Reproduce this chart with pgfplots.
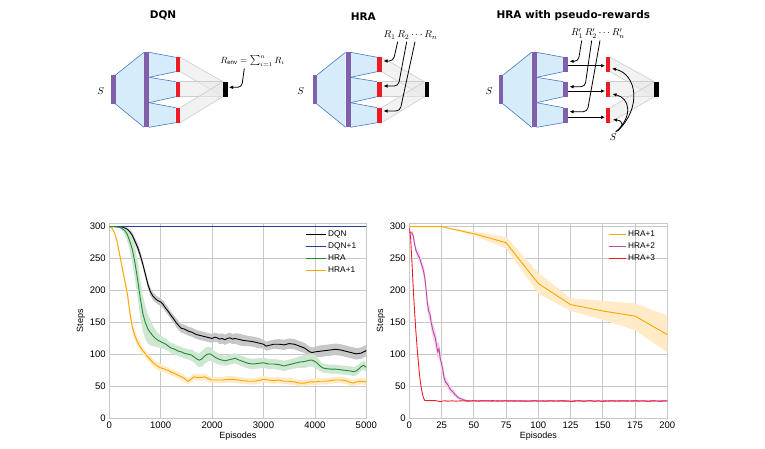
\documentclass[border=0pt]{standalone}
\usepackage{fontspec}
\setmainfont{Liberation Sans}
\newfontfamily\titlefont{DejaVu Sans}
\usepackage{pgfplots}
\pgfplotsset{compat=1.18}
\usepackage{pgfplotstable}
\usepgfplotslibrary{fillbetween}
\usetikzlibrary{arrows.meta}

\definecolor{netpurple}{RGB}{128,96,170}
\definecolor{netred}{RGB}{237,28,36}
\definecolor{netblue}{RGB}{70,120,200}
\definecolor{netfill}{RGB}{214,236,250}
\definecolor{headgrey}{RGB}{205,205,205}
\definecolor{headfill}{RGB}{232,232,232}
\definecolor{cDQNp}{RGB}{40,60,160}
\definecolor{cHRA}{RGB}{30,140,50}
\definecolor{cHRAp}{RGB}{255,165,0}
\definecolor{cHRAtwo}{RGB}{190,70,165}
\definecolor{cHRAthree}{RGB}{235,30,40}
\definecolor{gridc}{RGB}{200,200,200}

% ---------------- learning curves (mean m, half-width e) ----------------
\pgfplotstableread{
ep m e
0 300 0
100 300 0
200 300 0.5
250 299.5 1
300 298 2
350 296 3
400 292 4
450 286 5
500 277 5
550 268 6
600 256 6
650 242 6
700 226 6
750 210 6
800 198 6
850 191 6
900 187 6
950 184 6
1000 182 6
1050 178 6
1100 172 6
1150 167 6
1200 161 6
1250 156 6
1300 150 7
1350 145 7
1400 141 7
1450 140 7
1500 138 7
1550 136 7
1600 135 7
1650 133 7
1700 131 7
1750 130 7
1800 129 7
1850 128 7
1900 127 7
1950 126 7
2000 125 7
2050 127 7
2100 126 7
2150 124 8
2200 125 8
2250 123 8
2300 125 8
2350 126 8
2400 124 8
2450 125 8
2500 124 9
2600 122 9
2700 121 8
2800 120 8
2900 118 8
3000 116 7
3050 113 7
3100 114 7
3200 116 7
3300 116 8
3400 115 8
3500 117 8
3600 116 8
3700 113 8
3800 110 8
3850 107 8
3900 104 8
3950 103 8
4000 104 8
4100 105 9
4200 106 9
4300 107 9
4400 108 9
4500 107 9
4600 105 9
4700 103 9
4800 101 9
4900 102 9
4950 104 9
5000 106 9
}\dqn

\pgfplotstableread{
ep m e
0 300 0
100 300 0
200 299 1
250 297 3
300 294 6
350 288 10
400 277 15
450 264 21
500 243 25
550 218 28
600 189 29
650 165 28
700 150 26
750 140 23
800 134 20
850 129 16
900 125 13
950 122 11
1000 120 10
1050 118 9
1100 116 9
1150 113 8
1200 110 8
1250 109 8
1300 107 8
1350 105 8
1400 104 8
1450 102 8
1500 101 8
1550 100 8
1600 99 9
1650 96 9
1700 93 10
1750 91 11
1800 93 12
1850 97 12
1900 100 12
1950 101 11
2000 99 10
2050 96 9
2100 94 9
2150 92 8
2200 91 8
2250 90 8
2300 91 8
2350 92 8
2400 93 8
2450 94 8
2500 92 8
2600 89 8
2700 86 8
2800 85 8
2900 86 8
3000 87 8
3100 85 8
3200 85 8
3300 84 8
3400 82 8
3500 84 8
3600 86 8
3700 88 9
3800 89 10
3900 91 10
3950 91 10
4000 89 10
4050 86 9
4100 82 8
4150 79 7
4200 78 7
4300 77 7
4400 77 7
4500 76 7
4600 75 7
4700 74 7
4750 73 7
4800 74 7
4850 77 7
4900 81 7
4950 83 7
5000 80 7
}\hra

\pgfplotstableread{
ep m e
0 300 0
50 298 1
100 291 2
150 277 3
200 257 4
250 236 5
300 216 6
350 196 7
400 166 8
450 142 8
500 129 8
550 119 7
600 112 7
650 106 6
700 101 6
750 96 6
800 92 6
850 87 6
900 84 6
950 81 6
1000 79 6
1050 78 5
1100 76 5
1150 75 5
1200 72 5
1250 71 5
1300 69 5
1350 67 5
1400 65 5
1450 63 5
1500 60 5
1530 58 5
1570 60 5
1600 62 5
1650 65 5
1700 64 5
1800 64 5
1850 65 5
1900 63 5
1950 61 5
2000 60 5
2100 60 5
2200 60 5
2300 61 5
2400 61 5
2500 60 5
2600 59 5
2700 58 5
2800 58 5
2900 59 5
3000 61 5
3100 60 5
3200 59 5
3300 60 5
3400 58 5
3500 58 5
3600 57 5
3700 55 5
3800 55 5
3900 57 5
4000 57 5
4100 58 5
4200 58 5
4300 59 5
4400 60 5
4500 60 5
4600 59 5
4700 56 5
4750 55 5
4800 57 5
4900 58 5
5000 57 5
}\hraone

% ---------------- early episodes ----------------
\pgfplotstableread{
ep m lo hi
0 300 300 300
25 300 300 300
50 289 286 292
75 275 266 284
100 211 195 228
125 178 168 188
150 168 154 184
175 160 138 180
200 131 103 161
}\hrapone

\pgfplotstableread{
ep m e
0 292 2
1 291 3
2 290 4
3 286 5
4 274 6
5 264 6
6 259 6
7 255 7
8 251 7
9 244 7
10 238 8
11 231 9
12 220 10
13 202 11
14 180 12
15 168 12
16 163 12
17 150 12
18 140 12
19 133 12
20 127 12
21 116 12
22 104 12
23 109 12
24 93 12
25 86 11
26 76 10
27 63 9
28 57 8
29 55 7
30 52 6
31 48 6
32 45 5
33 43 5
34 41 4
35 38 4
36 36 3
37 34 3
38 32 3
39 31.5 2
40 30.5 2
41 30 2
42 29 1.5
43 28.5 1.5
44 28 1
46 27.5 1
48 27.2 0.5
50 27.6 0.5
53 27.0 0.5
56 27.8 0.5
59 26.9 0.5
62 27.4 0.5
65 27.7 0.5
68 26.8 0.5
71 27.3 0.5
74 27.6 0.5
77 26.9 0.5
80 27.2 0.5
83 27.5 0.5
86 26.7 0.5
89 27.4 0.5
92 27.1 0.5
95 26.9 0.5
98 27.6 0.5
101 27.0 0.5
104 27.3 0.5
107 26.8 0.5
110 27.5 0.5
113 27.2 0.5
116 26.9 0.5
119 27.7 0.5
122 27.1 0.5
125 26.6 0.5
128 27.3 0.5
131 27.5 0.5
134 26.9 0.5
137 27.2 0.5
140 27.6 0.5
143 26.8 0.5
146 27.3 0.5
149 27.0 0.5
152 27.4 0.5
155 26.9 0.5
158 27.5 0.5
161 27.1 0.5
164 26.8 0.5
167 27.4 0.5
170 27.2 0.5
173 26.9 0.5
176 27.6 0.5
179 27.0 0.5
182 27.3 0.5
185 26.8 0.5
188 27.5 0.5
191 27.1 0.5
194 26.9 0.5
197 27.4 0.5
200 27.2 0.5
}\hraptwo

\pgfplotstableread{
ep m
0 298
1 283
2 247
3 206
4 170
5 139
6 112
7 88
8 67
9 51
10 40
11 32
12 28
14 27.5
16 28
18 27.6
20 27.8
22 27
24 26.2
26 27
28 27.4
30 26.8
33 27.3
36 26.9
39 27.2
42 27.5
45 26.7
48 27.1
51 27.4
54 26.9
57 27.2
60 27.6
63 26.8
66 27.1
69 27.3
72 26.9
75 27.2
78 27.5
81 26.8
84 27.1
87 27.3
90 26.6
93 27.0
96 27.4
99 26.9
102 27.2
105 26.8
108 27.5
111 26.9
114 27.1
117 27.3
120 26.7
123 27.2
126 26.4
129 27.0
132 27.4
135 26.8
138 27.1
141 27.3
144 26.9
147 27.2
150 26.5
153 27.0
156 27.4
159 26.8
162 27.2
165 27.5
168 26.9
171 27.1
174 27.3
177 26.8
180 27.2
183 27.0
186 26.6
189 27.3
192 27.1
195 26.8
198 27.2
200 27.0
}\hrapthree

% ---------------- network sketches ----------------
% trunk: input layer, shared layer and three heads; #1 = x shift, #2 = head colour
\newcommand{\trunk}[2]{%
  \begin{scope}[xshift=#1pt]
    \fill[netfill] (115.5,75) -- (144,52.3) -- (144,127.3) -- (115.5,104) -- cycle;
    \draw[netblue, line width=0.6pt] (115.5,75) -- (144,52.3) (115.5,104) -- (144,127.3);
    \foreach \a/\b/\c/\d in {52.3/77.3/57.3/71.7, 77.3/102.7/81.7/96.7, 102.7/127.3/107.7/122.7}{
      \fill[netfill] (149,\a) -- (175.7,\c) -- (175.7,\d) -- (149,\b) -- cycle;
      \draw[netblue, line width=0.6pt] (149,\a) -- (175.7,\c) (149,\b) -- (175.7,\d);
    }
    \fill[netpurple] (111,75) rectangle (115.5,104);
    \fill[netpurple] (144,52.3) rectangle (149,127.3);
    \foreach \c/\d in {57.3/71.7, 81.7/96.7, 107.7/122.7}{
      \fill[#2] (175.7,\c) rectangle (180.2,\d);
    }
  \end{scope}}
% output part: red value heads merged into the black aggregator; #1 = red left, #2 = black left
\newcommand{\outpart}[2]{%
  \foreach \c/\d in {57.3/71.7, 81.7/96.7, 107.7/122.7}{
    \fill[headfill, opacity=0.55] (#1+4.5,\c) -- (#2,81.7) -- (#2,96.7) -- (#1+4.5,\d) -- cycle;
    \draw[headgrey, line width=0.6pt] (#1+4.5,\c) -- (#2,81.7) (#1+4.5,\d) -- (#2,96.7);
  }
  \foreach \c/\d in {57.3/71.7, 81.7/96.7, 107.7/122.7}{
    \fill[netred] (#1,\c) rectangle (#1+4.5,\d);
  }
  \fill[black] (#2,81.7) rectangle (#2+4.5,96.7);}

\tikzset{rew/.style={-{Latex[length=4pt,width=3.6pt]}, line width=0.8pt, rounded corners=4pt}}

\pgfplotsset{
  curves/.style={
    scale only axis, width=257pt, height=194.8pt,
    ymin=0, ymax=305,
    ytick={0,50,...,300},
    grid=major,
    major grid style={gridc, line width=0.7pt},
    axis line style={gridc, line width=0.8pt},
    major tick length=0pt,
    tick label style={font=\fontsize{9.5}{11}\selectfont},
    label style={font=\fontsize{9}{11}\selectfont},
    xlabel=Episodes, ylabel=Steps,
    xlabel style={yshift=3pt},
    ylabel style={yshift=-2pt},
    /pgf/number format/assume math mode=true,
    /pgf/number format/1000 sep={},
    legend style={draw=none, fill=none, font=\fontsize{8.3}{9}\selectfont,
      anchor=north west, row sep=0.8pt, inner sep=0pt},
    legend cell align=left,
    every axis plot/.append style={line width=0.9pt},
  }
}

\begin{document}
\begin{tikzpicture}
\begin{scope}[x=1pt,y=-1pt]
  \useasboundingbox (0,0) rectangle (765,449);

  % titles
  \node[font=\titlefont\bfseries\fontsize{10.5}{12}\selectfont] at (163,15.7) {DQN};
  \node[font=\titlefont\bfseries\fontsize{10.5}{12}\selectfont] at (363.3,16.2) {HRA};
  \node[font=\titlefont\bfseries\fontsize{10.5}{12}\selectfont] at (573.3,15.7) {HRA with pseudo-rewards};

  % DQN
  \outpart{175.7}{223}
  \trunk{0}{netred}
  \node at (100.7,90.7) {$S$};
  \node[font=\fontsize{9}{10}\selectfont] at (252.5,61) {$R_{\mathrm{env}}=\sum_{i=1}^{n}R_i$};
  \draw[rew] (244.3,68.5) -- (241.7,87.3) -- (229,87.3);

  % HRA
  \outpart{377.2}{424.5}
  \trunk{201.5}{netred}
  \node at (300.7,90.7) {$S$};
  \node at (410.5,35.2) {$R_1\,R_2\cdots R_n$};
  \draw[rew] (397.7,41.7) -- (393.3,61) -- (383.5,61);
  \draw[rew] (406.7,41.7) -- (398.3,86) -- (383.5,86);
  \draw[rew] (415,41.7) -- (400,111) -- (383.5,111);

  % HRA with pseudo-rewards
  \outpart{605.7}{654.3}
  \trunk{387.6}{netpurple}
  \node at (489.3,90.7) {$S$};
  \node at (598,33.3) {$R'_1\,R'_2\cdots R'_n$};
  \draw[rew] (581.7,40.5) -- (578.3,61.3) -- (569.5,61.3);
  \draw[rew] (591.7,40.5) -- (585,86.7) -- (569.5,86.7);
  \draw[rew] (600,40.5) -- (587.3,111.7) -- (569.5,111.7);
  \foreach \y in {65.7,91,117.3}{
    \draw[rew] (568.3,\y) -- (605,\y);
  }
  \node at (613.3,137) {$S$};
  \draw[rew] (617.5,131) .. controls (642,108) and (637,74) .. (612,68.5);
  \draw[rew] (616.5,131.5) .. controls (633,116) and (630,98) .. (612.5,94);
  \draw[rew] (615.5,132) .. controls (624,126) and (624,121) .. (613,119.5);
\end{scope}

% ---------------- long run ----------------
\begin{axis}[curves, at={(109.3pt,-418.3pt)}, anchor=south west,
  xmin=0, xmax=5000, xtick={0,1000,...,5000},
  legend style={at={(0.762,0.975)}},
  legend image code/.code={\draw[#1] (0pt,0pt) -- (20pt,0pt);}]
  \addplot[draw=none, forget plot, name path=dqnH] table[x=ep, y expr=\thisrow{m}+\thisrow{e}] {\dqn};
  \addplot[draw=none, forget plot, name path=dqnL] table[x=ep, y expr=\thisrow{m}-\thisrow{e}] {\dqn};
  \addplot[black!22, forget plot] fill between[of=dqnH and dqnL];
  \addplot[draw=none, forget plot, name path=hraH] table[x=ep, y expr=\thisrow{m}+\thisrow{e}] {\hra};
  \addplot[draw=none, forget plot, name path=hraL] table[x=ep, y expr=\thisrow{m}-\thisrow{e}] {\hra};
  \addplot[cHRA!22, forget plot] fill between[of=hraH and hraL];
  \addplot[draw=none, forget plot, name path=oneH] table[x=ep, y expr=\thisrow{m}+\thisrow{e}] {\hraone};
  \addplot[draw=none, forget plot, name path=oneL] table[x=ep, y expr=\thisrow{m}-\thisrow{e}] {\hraone};
  \addplot[cHRAp!22, forget plot] fill between[of=oneH and oneL];

  \addplot[black] table[x=ep, y=m] {\dqn};
  \addplot[cDQNp] coordinates {(0,300) (5000,300)};
  \addplot[cHRA] table[x=ep, y=m] {\hra};
  \addplot[cHRAp] table[x=ep, y=m] {\hraone};
  \legend{DQN, DQN+1, HRA, HRA+1}
\end{axis}

% ---------------- first episodes ----------------
\begin{axis}[curves, at={(409.3pt,-418.3pt)}, anchor=south west, width=258pt,
  xmin=0, xmax=200, xtick={0,25,...,200},
  legend style={at={(0.77,0.975)}},
  legend image code/.code={\draw[#1] (0pt,0pt) -- (17pt,0pt);}]
  \addplot[draw=none, forget plot, name path=pH] table[x=ep, y=hi] {\hrapone};
  \addplot[draw=none, forget plot, name path=pL] table[x=ep, y=lo] {\hrapone};
  \addplot[cHRAp!22, forget plot] fill between[of=pH and pL];
  \addplot[draw=none, forget plot, name path=qH] table[x=ep, y expr=\thisrow{m}+\thisrow{e}] {\hraptwo};
  \addplot[draw=none, forget plot, name path=qL] table[x=ep, y expr=\thisrow{m}-\thisrow{e}] {\hraptwo};
  \addplot[cHRAtwo!22, forget plot] fill between[of=qH and qL];

  \addplot[cHRAp] table[x=ep, y=m] {\hrapone};
  \addplot[cHRAtwo] table[x=ep, y=m] {\hraptwo};
  \addplot[cHRAthree] table[x=ep, y=m] {\hrapthree};
  \legend{HRA+1, HRA+2, HRA+3}
\end{axis}
\end{tikzpicture}
\end{document}
